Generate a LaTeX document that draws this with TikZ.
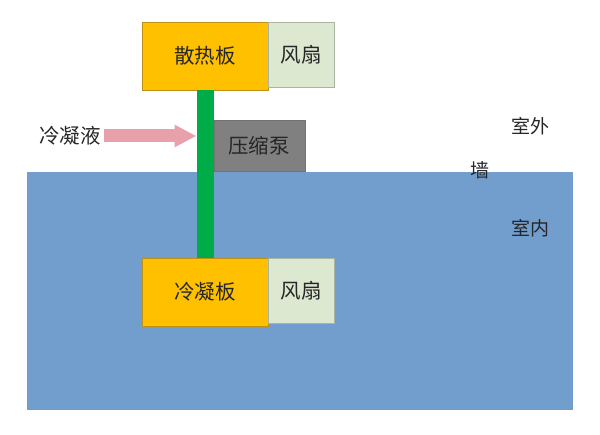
\documentclass[tikz,border=0pt]{standalone}
\usepackage{fontspec}
\setmainfont{Noto Sans CJK SC}
\usetikzlibrary{
    positioning,
    arrows.meta,
}

\definecolor{roomblue}{RGB}{114,158,206}
\definecolor{plateorange}{RGB}{255,192,0}
\definecolor{plateedge}{RGB}{190,145,20}
\definecolor{fangreen}{RGB}{221,232,208}
\definecolor{fanedge}{RGB}{170,180,165}
\definecolor{pipegreen}{RGB}{0,172,72}
\definecolor{pumpgray}{RGB}{128,128,128}
\definecolor{flowpink}{RGB}{232,160,170}

\begin{document}
\begin{tikzpicture}[
    x=1pt, y=-1pt,
    font=\fontsize{20.5}{24}\selectfont,
    text=black!85,
    room/.style={fill=roomblue, minimum width=546pt, minimum height=238pt, inner sep=0pt},
    plate/.style={draw=plateedge, fill=plateorange, minimum width=126pt, minimum height=68pt, inner sep=0pt},
    fan/.style={draw=fanedge, fill=fangreen, minimum width=66pt, minimum height=65pt, inner sep=0pt},
    pump/.style={draw=pumpgray!90!black, fill=pumpgray, minimum width=91pt, minimum height=51pt, inner sep=0pt},
    pipe/.style={draw=pipegreen, line width=17pt},
    inflow/.style={draw=flowpink, line width=13pt, -{Triangle[length=22pt, width=21pt]}},
    note/.style={font=\fontsize{19}{22}\selectfont},
    ]

\useasboundingbox (0,0) rectangle (600,435);

\node[room] at (300,291) (indoor) {};

\node[plate] at (205,56) (radiator) {散热板};
\node[fan, anchor=north west] at (radiator.north east) (topfan) {风扇};

\node[plate] at (205,292) (condenser) {冷凝板};
\node[fan, anchor=north west] at (condenser.north east) (bottomfan) {风扇};

\draw[pipe] (radiator.south) -- (condenser.north);

\node[pump, anchor=south west, xshift=8.5pt] at (radiator.south |- indoor.north) (compressor)
    {压缩泵};

\node at (70,136) (liquid) {冷凝液};
\coordinate[xshift=-8.5pt] (inlet) at (radiator.south |- liquid);
\draw[inflow] (liquid.east) -- (inlet);

\node[note] at (530,126) (outside) {室外};
\node[note] at (480,170) (wall) {墙};
\node[note] at (530,228) (inside) {室内};

\end{tikzpicture}
\end{document}
